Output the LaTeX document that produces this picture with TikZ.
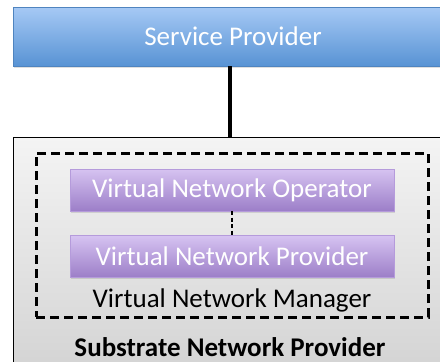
\documentclass[tikz,border=0pt]{standalone}
\usepackage{fontspec}
\setmainfont{Carlito}
\usetikzlibrary{shadows}

\definecolor{spTop}{HTML}{A6C9F5}
\definecolor{spBot}{HTML}{5893D4}
\definecolor{vnTop}{HTML}{D6C3F1}
\definecolor{vnBot}{HTML}{9C7EC8}
\definecolor{vnLine}{HTML}{B59BDB}
\definecolor{snTop}{HTML}{F4F4F4}
\definecolor{snBot}{HTML}{D3D3D3}

\tikzset{
  role/.style={rectangle, text=white, font=\fontsize{27}{31}\selectfont,
    drop shadow={opacity=0.25, shadow xshift=1pt, shadow yshift=-1.5pt}},
  provider/.style={role, top color=spTop, bottom color=spBot, draw=spBot!90!black,
    minimum width=440, minimum height=59},
  vnrole/.style={role, top color=vnTop, bottom color=vnBot, draw=vnLine,
    minimum width=324, minimum height=42}
}

\begin{document}
\begin{tikzpicture}[x=1pt, y=-1pt]
                \useasboundingbox (0,0) rectangle (440,362);
                % outer substrate box
                \node (snp) [rectangle, draw=black, line width=0.8pt, top color=snTop, bottom color=snBot,
                    minimum width=433, minimum height=238] at (229.5,256) {};
                \node (snpname) at (230,347) {\fontsize{27}{31}\selectfont\bfseries Substrate Network Provider};
                % manager group
                \node (vnm) [rectangle, draw=black, line width=3pt, dash pattern=on 9pt off 5pt,
                    minimum width=392, minimum height=164] at (232,235) {};
                \node (vno) [vnrole] at (232,190) {Virtual Network Operator};
                \node (vnp) [vnrole] at (232,256.5) {Virtual Network Provider};
                \node (vnmname) at (232,300) {\fontsize{27}{31}\selectfont Virtual Network Manager};
                \draw[line width=2pt, dash pattern=on 4pt off 2.5pt] (vno.south) -- (vnp.north);
                % top
                \node (sp) [provider] at (233,36.5) {Service Provider};
                \draw[line width=4pt] (snp.north) -- (snp.north |- sp.south);
            \end{tikzpicture}
\end{document}
